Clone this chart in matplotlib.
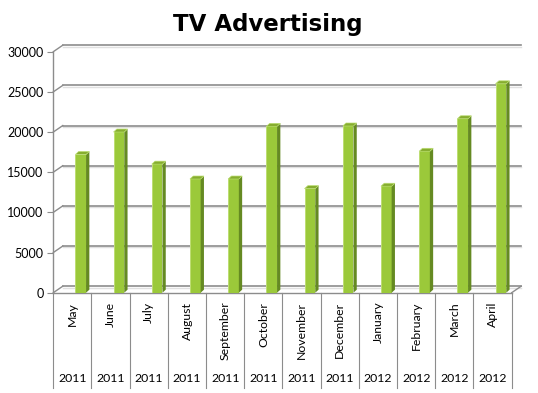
import matplotlib
matplotlib.use("Agg")
import matplotlib.pyplot as plt
from matplotlib.patches import Polygon

# Datos del grafico
months = ["May", "June", "July", "August", "September", "October",
          "November", "December", "January", "February", "March", "April"]
years = ["2011", "2011", "2011", "2011", "2011", "2011",
         "2011", "2011", "2012", "2012", "2012", "2012"]
spend = [17200, 20000, 16000, 14150, 14150, 20700,
         12950, 20750, 13250, 17600, 21650, 26000]
yticks = [0, 5000, 10000, 15000, 20000, 25000, 30000]

W, H = 538, 393
fig = plt.figure(figsize=(W / 100, H / 100), dpi=100)
fig.patch.set_facecolor("white")

# ejes: frente del grafico en pixeles
left, right, y0, y30 = 53.3, 511.7, 292.7, 51.7
ax = fig.add_axes([left / W, (H - y0) / H, (right - left) / W, (y0 - y30) / H])
n = len(months)
ax.set_xlim(-0.5, n - 0.5)
ax.set_ylim(0, 30000)
ax.patch.set_alpha(0)

px_x = (n) / (right - left)          # unidades x por pixel
px_y = 30000 / (y0 - y30)            # unidades y por pixel
dx, dy = 9.5 * px_x, 6.5 * px_y      # profundidad de la pared

grid_c = "#8c8c8c"
for v in yticks:
    ax.plot([-0.5 + dx, n - 0.5 + dx], [v + dy - 1.3 * px_y] * 2, color="#e0e0e0",
            lw=1.0, clip_on=False, zorder=1)
    ax.plot([-0.5 + dx, n - 0.5 + dx], [v + dy] * 2, color=grid_c, lw=1.2,
            clip_on=False, zorder=1)
    ax.plot([-0.5, -0.5 + dx], [v, v + dy], color=grid_c, lw=1.0,
            clip_on=False, zorder=1)

# piso
ax.plot([-0.5, n - 0.5], [0, 0], color=grid_c, lw=1.0, clip_on=False, zorder=1)
ax.plot([n - 0.5, n - 0.5 + dx], [0, dy], color=grid_c, lw=1.0, clip_on=False, zorder=1)

for s in ["top", "right", "bottom"]:
    ax.spines[s].set_visible(False)
ax.spines["left"].set_color(grid_c)
ax.spines["left"].set_linewidth(1.0)
ax.set_yticks(yticks)
ax.set_yticklabels([str(v) for v in yticks], fontsize=9, family="Lato")
ax.tick_params(axis="y", length=4, color=grid_c, pad=3)
ax.set_xticks([])

# barras 3D
off, bw = 8.3 * px_x, 10.7 * px_x
sdx, sdy = 3.3 * px_x, 3.0 * px_y
xs = [i + off for i in range(n)]
ax.bar(xs, spend, width=bw, color="#9bc93a", edgecolor="none", zorder=3)
for x, v in zip(xs, spend):
    xl, xr = x - bw / 2, x + bw / 2
    ax.add_patch(Polygon([(xr, 0), (xr + sdx, sdy), (xr + sdx, v + sdy), (xr, v)],
                         closed=True, facecolor="#658a22", edgecolor="none", zorder=3))
    ax.add_patch(Polygon([(xl, v), (xr, v), (xr + sdx, v + sdy), (xl + sdx, v + sdy)],
                         closed=True, facecolor="#86ad2f", edgecolor="#b9dc6e",
                         lw=0.5, zorder=4))
    ax.plot([xl, xl], [0, v], color="#c4e27f", lw=0.6, zorder=4)

# etiquetas de categorias (dos niveles)
bottom_px = 388
for i in range(n + 1):
    ax.plot([i - 0.5, i - 0.5], [0, -(bottom_px - y0) * px_y], color=grid_c,
            lw=0.8, clip_on=False)
for i in range(n):
    ax.text(i, -9.0 * px_y, months[i], rotation=90, ha="center", va="top",
            fontsize=8.8, family="Lato")
    ax.text(i, -(379 - y0) * px_y, years[i], ha="center", va="center",
            fontsize=8.8, family="Lato")

fig.text(267.5 / W, 1 - 24 / H, "TV Advertising", ha="center", va="center",
         fontsize=16.5, fontweight="bold", family="DejaVu Sans")

fig.savefig("out.png", dpi=100, facecolor="white")
